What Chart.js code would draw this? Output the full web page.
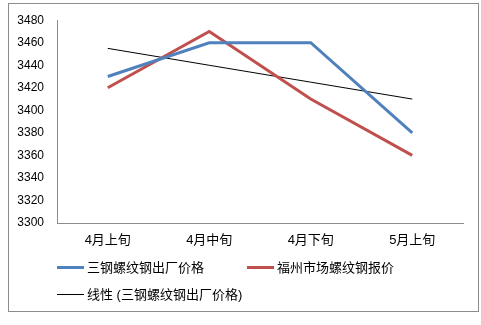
<!DOCTYPE html>
<html><head><meta charset="utf-8">
<script src="https://cdn.jsdelivr.net/npm/chart.js@4"></script>
<style>
html,body{margin:0;padding:0;background:#fff;}
#wrap{position:relative;width:481px;height:325px;}
#frame{position:absolute;left:8px;top:3px;width:469px;height:307px;border:1px solid #8c8c8c;box-sizing:content-box;}
canvas{position:absolute;left:0;top:0;}
.lg{position:absolute;font:13px "Liberation Sans","Noto Sans CJK SC",sans-serif;color:#000;white-space:nowrap;line-height:16px;}
.sw{display:inline-block;vertical-align:middle;width:27px;margin-right:3px;position:relative;top:-1px;}
</style></head>
<body>
<div id="wrap">
<div id="frame"></div>
<canvas id="c" width="481" height="325"></canvas>
<div id="legend"></div>
</div>
<script>
const categories = ["4月上旬", "4月中旬", "4月下旬", "5月上旬"];
const sangangPrice = [3430, 3460, 3460, 3380];
const fuzhouPrice = [3420, 3470, 3410, 3360];
const trendSangang = [3455, 3440, 3425, 3410];
const seriesNames = ["三钢螺纹钢出厂价格", "福州市场螺纹钢报价", "线性 (三钢螺纹钢出厂价格)"];
const yTicks = {min: 3300, max: 3480, step: 20};

const FONT = '"Liberation Sans","Noto Sans CJK SC",sans-serif';
const colors = ["#4F81BD", "#C0504D", "#000000"];
const widths = [3, 3, 1];

new Chart(document.getElementById('c'), {
  type: 'line',
  data: {
    labels: categories,
    datasets: [
      {label: seriesNames[0], data: sangangPrice, borderColor: colors[0], borderWidth: 3, pointRadius: 0, tension: 0},
      {label: seriesNames[1], data: fuzhouPrice, borderColor: colors[1], borderWidth: 3, pointRadius: 0, tension: 0},
      {label: seriesNames[2], data: trendSangang, borderColor: colors[2], borderWidth: 1, pointRadius: 0, tension: 0}
    ]
  },
  options: {
    responsive: false,
    animation: false,
    devicePixelRatio: 1,
    layout: {padding: {left: 0, right: 18, top: 16, bottom: 72}},
    plugins: {legend: {display: false}, tooltip: {enabled: false}},
    scales: {
      x: {
        offset: true,
        grid: {display: false, drawTicks: false},
        border: {display: true, color: '#8c8c8c', width: 1},
        ticks: {padding: 10, color: '#000', font: {family: FONT, size: 13}, maxRotation: 0},
        afterFit: s => { s.height = 30; }
      },
      y: {
        min: yTicks.min, max: yTicks.max,
        grid: {display: false, drawTicks: false},
        border: {display: true, color: '#8c8c8c', width: 1},
        ticks: {stepSize: yTicks.step, padding: 13, color: '#000', font: {family: FONT, size: 12},
                callback: v => String(v)},
        afterFit: s => { s.width = 57; }
      }
    }
  }
});

const lg = document.getElementById('legend');
const pos = [[57, 260], [247, 260], [57, 287]];
seriesNames.forEach((n, i) => {
  const d = document.createElement('div');
  d.className = 'lg';
  d.style.left = pos[i][0] + 'px';
  d.style.top = pos[i][1] + 'px';
  d.innerHTML = '<span class="sw" style="height:' + widths[i] + 'px;background:' + colors[i] + '"></span>';
  d.appendChild(document.createTextNode(n));
  lg.appendChild(d);
});
</script>
</body></html>
